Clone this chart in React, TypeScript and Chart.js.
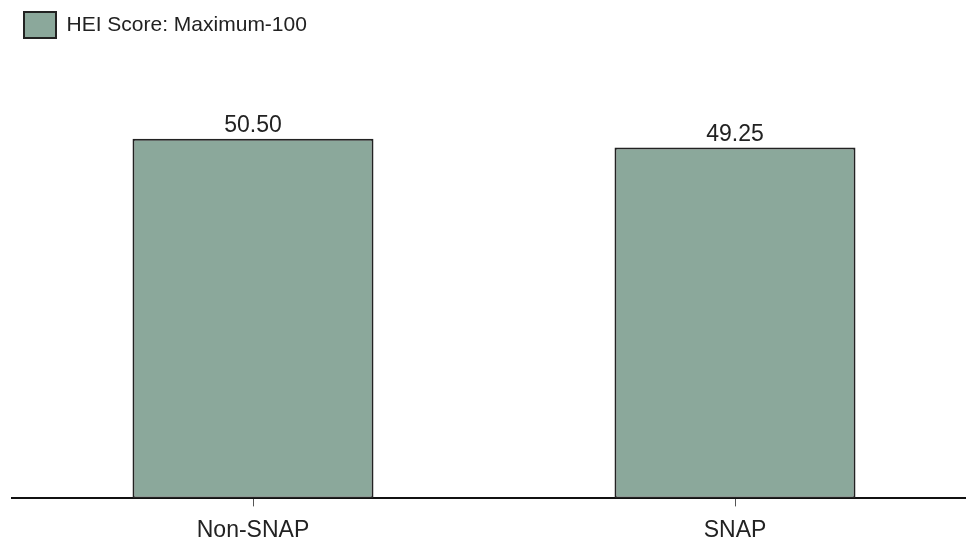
import React, { useEffect, useRef } from "react";
import { Chart, registerables } from "chart.js";

Chart.register(...registerables);

const categories = ["Non-SNAP", "SNAP"];
const seriesLabel = "HEI Score: Maximum-100";
const heiScores = [50.5, 49.25];
const valueLabels = ["50.50", "49.25"];

const FONT = "'Liberation Sans', Arial, Helvetica, sans-serif";
const TEXT = "#222222";
const CANVAS_W = 981;
const CANVAS_H = 554;

const valueLabelPlugin = {
  id: "valueLabels",
  afterDatasetsDraw(chart: any) {
    const ctx = chart.ctx;
    const meta = chart.getDatasetMeta(0);
    ctx.save();
    ctx.font = `23px ${FONT}`;
    ctx.fillStyle = TEXT;
    ctx.textAlign = "center";
    ctx.textBaseline = "alphabetic";
    meta.data.forEach((bar: any, i: number) => {
      ctx.fillText(valueLabels[i], bar.x, bar.y - 7);
    });
    ctx.restore();
  },
};

const legendHeightPlugin = {
  id: "legendHeight",
  beforeInit(chart: any) {
    const legend = chart.legend;
    if (!legend) return;
    const orig = legend.fit;
    legend.fit = function () {
      orig.call(this);
      this.height = 71;
    };
  },
};

export default function App() {
  const ref = useRef<HTMLCanvasElement>(null);
  useEffect(() => {
    if (!ref.current) return;
    const chart = new Chart(ref.current, {
      type: "bar",
      data: {
        labels: categories,
        datasets: [
          {
            label: seriesLabel,
            data: heiScores,
            backgroundColor: "#8ba89b",
            borderColor: "#222222",
            borderWidth: 2,
            borderSkipped: false,
            categoryPercentage: 1,
            barPercentage: 0.5,
          },
        ],
      },
      options: {
        animation: false,
        responsive: false,
        devicePixelRatio: 1,
        layout: { padding: { left: 12, right: 5, top: 0, bottom: 0 } },
        plugins: {
          legend: {
            display: true,
            position: "top",
            align: "start",
            labels: {
              boxWidth: 32,
              boxHeight: 26,
              padding: 12,
              color: TEXT,
              font: { family: FONT, size: 21 },
            },
          },
          tooltip: { enabled: false },
        },
        scales: {
          x: {
            grid: {
              display: true,
              drawOnChartArea: false,
              offset: false,
              tickLength: 8,
              color: "#555555",
              lineWidth: 1,
            },
            border: { display: true, color: "#111111", width: 2 },
            ticks: {
              color: TEXT,
              padding: 10,
              font: { family: FONT, size: 23 },
            },
          },
          y: {
            display: false,
            min: 0,
            max: 60,
          },
        },
      },
      plugins: [legendHeightPlugin, valueLabelPlugin],
    });
    return () => chart.destroy();
  }, []);
  return (
    <div
      style={{
        position: "fixed",
        left: 0,
        top: 0,
        width: 966,
        height: 540,
        overflow: "hidden",
        background: "#ffffff",
      }}
    >
      <canvas
        ref={ref}
        width={CANVAS_W}
        height={CANVAS_H}
        style={{ display: "block", width: CANVAS_W, height: CANVAS_H }}
      />
    </div>
  );
}
